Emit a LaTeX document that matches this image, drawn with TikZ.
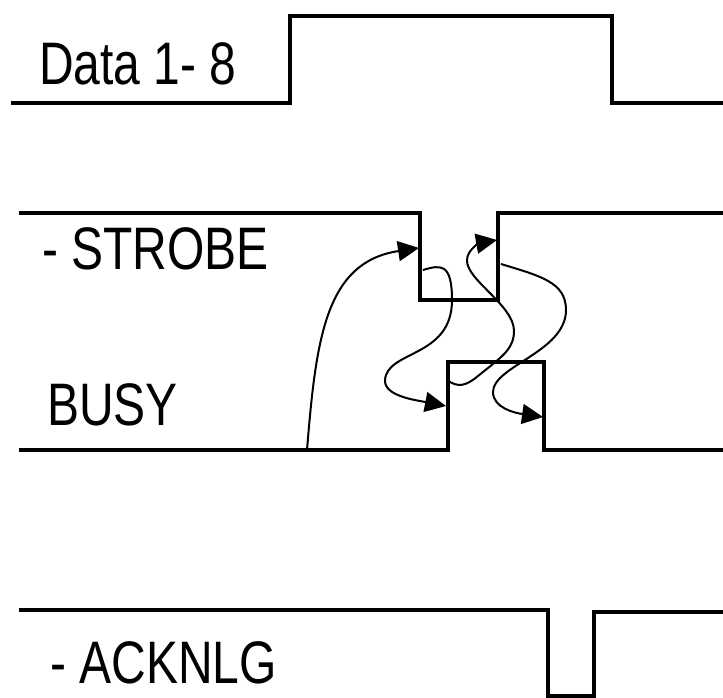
\documentclass[tikz,border=0pt]{standalone}
\usepackage{fontspec}
\setmainfont[FakeStretch=0.8]{Liberation Sans}
\usetikzlibrary{arrows.meta}
\tikzset{signal/.style={line width=4pt,line join=miter},
  label/.style={font=\fontsize{60}{64}\selectfont,anchor=base west,inner sep=0pt},
  cause/.style={line width=2pt,-{Triangle[length=21pt,width=20pt]}}}
\begin{document}
\begin{tikzpicture}[x=1pt,y=-1pt]
\useasboundingbox (0,0) rectangle (723,698);
\coordinate (busyA) at (307,450);\coordinate (strobeA) at (419,248);
\coordinate (strobeB) at (423,270);\coordinate (busyB) at (446,406);
\coordinate (busyC) at (447,380);\coordinate (strobeC) at (497,240);
\coordinate (strobeD) at (501,264);\coordinate (busyD) at (543,417);
\draw[signal] (11,103)--(290,103)--(290,16)--(612,16)--(612,103)--(723,103);
\draw[signal] (19,213)--(420,213)--(420,300)--(498,300)--(498,213)--(723,213);
\draw[signal] (19,450)--(448,450)--(448,362)--(544,362)--(544,450)--(723,450);
\draw[signal] (19,610)--(548,610)--(548,696)--(594,696)--(594,612)--(723,612);
\node[label] (data) at (39,85) {Data 1- 8};
\node[label] (strobe) at (42,269) {- STROBE};
\node[label] (busy) at (47,425) {BUSY};
\node[label] (acknlg) at (50,683) {- ACKNLG};
\draw[cause] (busyA) .. controls (316,340) and (325,262) .. (strobeA);
\draw[cause] (strobeB) .. controls (440,265) and (452,262) .. (452,300) .. controls (452,358) and (387,350) .. (385,380) .. controls (384,396) and (415,400) .. (busyB);
\draw[cause] (busyC) .. controls (458,388) and (466,386) .. (478,376) .. controls (500,358) and (514,350) .. (514,331) .. controls (514,305) and (466,280) .. (467,260) .. controls (467,250) and (480,243) .. (strobeC);
\draw[cause] (strobeD) .. controls (540,276) and (566,282) .. (566,310) .. controls (566,352) and (493,366) .. (493,392) .. controls (493,408) and (515,413) .. (busyD);
\end{tikzpicture}
\end{document}
